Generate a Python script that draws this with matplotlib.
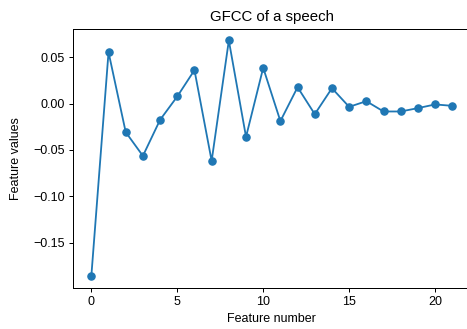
import matplotlib
matplotlib.use("Agg")
import matplotlib.pyplot as plt

plt.rcParams["font.family"] = ["Liberation Sans", "DejaVu Sans"]

feature_number = list(range(22))
feature_values = [-0.186, 0.0554, -0.0309, -0.0565, -0.0176, 0.0076, 0.036, -0.0619,
                  0.068, -0.036, 0.0385, -0.019, 0.0176, -0.0115, 0.0165, -0.0036,
                  0.0025, -0.0086, -0.0086, -0.005, -0.001, -0.0025]

DPI = 90
fig = plt.figure(figsize=(467 / DPI, 329 / DPI), dpi=DPI)
ax = fig.add_axes([73.3 / 467, 1 - 287.7 / 329, (470.3 - 73.3) / 467, (287.7 - 28.7) / 329])
ax.plot(feature_number, feature_values, marker="o", color="#1f77b4", markersize=5.8, linewidth=1.45)
ax.set_title("GFCC of a speech")
ax.set_xlabel("Feature number")
ax.set_ylabel("Feature values", labelpad=8.5)
ax.set_xticks([0, 5, 10, 15, 20])
ax.set_yticks([-0.15, -0.10, -0.05, 0.00, 0.05])
fig.savefig("out.png", dpi=DPI)
